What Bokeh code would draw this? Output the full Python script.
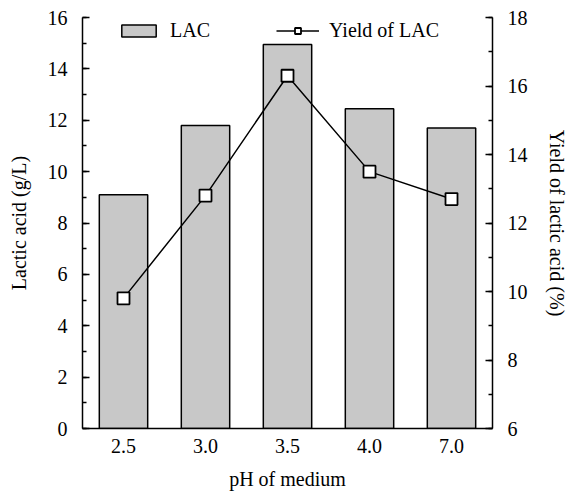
from bokeh.plotting import figure
from bokeh.models import LinearAxis, Range1d, Legend, LegendItem, FactorRange, SingleIntervalTicker
from bokeh.embed import file_html
from bokeh.resources import INLINE

ph = ["2.5", "3.0", "3.5", "4.0", "7.0"]
lac = [9.1, 11.8, 14.95, 12.45, 11.7]
yield_lac = [9.8, 12.8, 16.3, 13.5, 12.7]

FONT = "Liberation Serif"

p = figure(x_range=FactorRange(*ph, range_padding=0), y_range=Range1d(0, 16),
           width=570, height=492, output_backend="svg", toolbar_location=None,
           min_border_left=82, min_border_right=72, min_border_top=17, min_border_bottom=63)
p.extra_y_ranges = {"yield": Range1d(6, 18)}

p.outline_line_color = None
p.xgrid.visible = False
p.ygrid.visible = False
p.background_fill_color = "white"

bars = p.vbar(x=ph, top=lac, width=0.59, fill_color="#c8c8c8", line_color="black", line_width=1.5)
ln = p.line(x=ph, y=yield_lac, y_range_name="yield", line_color="black", line_width=1.5)
mk = p.scatter(x=ph, y=yield_lac, y_range_name="yield", marker="square", size=12,
               fill_color="white", line_color="black", line_width=1.8)

# left axis
ya = p.yaxis[0]
ya.ticker = SingleIntervalTicker(interval=2, num_minor_ticks=2)
ya.axis_label = "Lactic acid (g/L)"

# right axis
ra = LinearAxis(y_range_name="yield", ticker=SingleIntervalTicker(interval=2, num_minor_ticks=2),
                axis_label="Yield of lactic acid (%)")
p.add_layout(ra, "right")

xa = p.xaxis[0]
xa.axis_label = "pH of medium"
xa.major_tick_in = 0
xa.major_tick_out = 0
xa.minor_tick_in = 0
xa.minor_tick_out = 0
xa.major_label_standoff = 10
xa.axis_label_standoff = 12

for ax in [ya, ra]:
    ax.major_tick_in = 7
    ax.major_tick_out = 0
    ax.minor_tick_in = 4
    ax.minor_tick_out = 0
    ax.major_tick_line_width = 1.5
    ax.minor_tick_line_width = 1.5
    ax.major_label_standoff = 15
    ax.axis_label_standoff = 15

for ax in [xa, ya, ra]:
    ax.axis_line_color = "black"
    ax.axis_line_width = 1.5
    ax.major_tick_line_color = "black"
    ax.minor_tick_line_color = "black"
    ax.major_label_text_font = FONT
    ax.major_label_text_font_size = "20px"
    ax.major_label_text_color = "black"
    ax.axis_label_text_font = FONT
    ax.axis_label_text_font_size = "20px"
    ax.axis_label_text_font_style = "normal"
    ax.axis_label_text_color = "black"

legend = Legend(items=[LegendItem(label="LAC", renderers=[bars]),
                       LegendItem(label="Yield of LAC", renderers=[ln, mk])],
                orientation="horizontal", location=(35, 386),
                border_line_color=None, background_fill_alpha=0,
                padding=0, margin=0, spacing=66, glyph_width=43, glyph_height=15,
                label_standoff=10, label_text_font=FONT, label_text_font_size="20px",
                label_text_color="black")
p.add_layout(legend)

open("out.html", "w").write(file_html(p, INLINE))
